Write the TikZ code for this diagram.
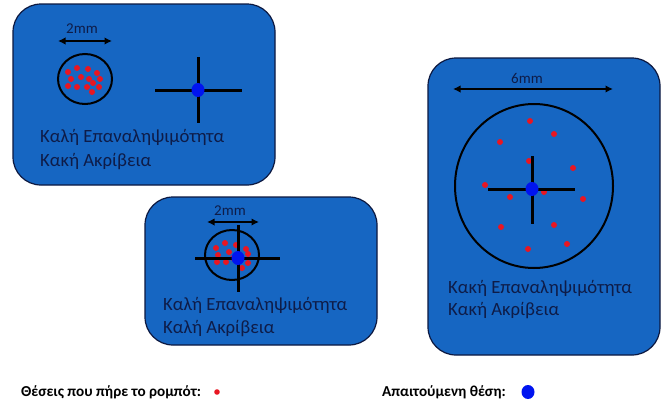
\documentclass[tikz,border=0pt]{standalone}
\usepackage{fontspec}
\setmainfont{Carlito}
\usepackage{tikz}
\usetikzlibrary{arrows.meta}

\definecolor{boxblue}{RGB}{22,102,194}
\definecolor{boxedge}{RGB}{12,24,64}
\definecolor{textnavy}{RGB}{14,28,72}
\definecolor{hitred}{RGB}{232,22,34}
\definecolor{goalblue}{RGB}{0,20,240}

\tikzset{
    panel/.style={draw=boxedge, fill=boxblue, line width=1.2pt, rounded corners=28pt},
    hit/.style={fill=hitred},
    goal/.style={fill=goalblue},
    cross/.style={line width=3pt, black},
    spread/.style={line width=2pt, black},
    span/.style={line width=1.5pt, black, {Latex[length=7.5pt,width=7.5pt]}-{Latex[length=7.5pt,width=7.5pt]}},
    caption/.style={anchor=base west, inner sep=0pt, text=textnavy, font=\fontsize{18.7}{22}\selectfont},
    size/.style={anchor=base, inner sep=0pt, text=textnavy, font=\fontsize{15}{18}\selectfont},
    legend/.style={anchor=base west, inner sep=0pt, text=black, font=\fontsize{15.2}{18}\selectfont\bfseries}
}

\begin{document}
\begin{tikzpicture}[x=1pt, y=-1pt]
        \useasboundingbox (0,0) rectangle (669,410);
        \fill [white] (0,0) rectangle (669,410);

        % panel 1: good repeatability, bad accuracy
        \draw [panel] (13,4) rectangle (275,185);
        \coordinate (s1a) at (58,41);
        \coordinate (s1b) at (112,41);
        \draw [span] (s1a) -- (s1b);
        \node [size] (mm1) at (82,33) {2mm};
        \draw [spread] (85,79) ellipse [x radius=27pt, y radius=25pt];
        \foreach \px/\py in {68/72, 77/68, 88/69, 97/73, 71/79, 81/77, 89/79, 100/79,
                             68/86, 77/87, 87/87, 93/83, 99/87, 92/92}
            \fill [hit] (\px,\py) circle [radius=3pt];
        \draw [cross] (155,90) -- (242,90);
        \draw [cross] (198,57) -- (198,123);
        \fill [goal] (198,90) ellipse [x radius=6.5pt, y radius=7pt];
        \node [caption] (rep1) at (40,142) {Καλή Επαναληψιμότητα};
        \node [caption] (acc1) at (40,166) {Κακή Ακρίβεια};

        % panel 2: good repeatability, good accuracy
        \draw [panel] (145,197) rectangle (377,345);
        \coordinate (s2a) at (207,222);
        \coordinate (s2b) at (259,222);
        \draw [span] (s2a) -- (s2b);
        \node [size] (mm2) at (230,215) {2mm};
        \draw [spread] (232,255) ellipse [x radius=27pt, y radius=25pt];
        \foreach \px/\py in {216/248, 225/243, 236/245, 246/249, 218/255, 229/252,
                             248/254, 217/262, 226/262, 248/263, 242/268, 233/258}
            \fill [hit] (\px,\py) circle [radius=3pt];
        \draw [cross] (195,258) -- (280,258);
        \draw [cross] (238,225) -- (238,292);
        \fill [goal] (238,258) ellipse [x radius=6.5pt, y radius=7pt];
        \node [caption] (rep2) at (163,310) {Καλή Επαναληψιμότητα};
        \node [caption] (acc2) at (163,333) {Καλή Ακρίβεια};

        % panel 3: bad repeatability, bad accuracy
        \draw [panel] (428,58) rectangle (660,355);
        \coordinate (s3a) at (453,89);
        \coordinate (s3b) at (613,89);
        \draw [span] (s3a) -- (s3b);
        \node [size] (mm3) at (527,83) {6mm};
        \draw [spread] (534,186) ellipse [x radius=79pt, y radius=82pt];
        \foreach \px/\py in {530/121, 554/134, 500/142, 529/161, 573/168, 485/185, 510/197,
                             544/192, 583/199, 501/227, 554/225, 528/249, 567/244}
            \fill [hit] (\px,\py) circle [radius=3pt];
        \draw [cross] (488,189) -- (575,189);
        \draw [cross] (532,156) -- (532,224);
        \fill [goal] (532,189) ellipse [x radius=6.5pt, y radius=7pt];
        \node [caption] (rep3) at (448,293) {Κακή Επαναληψιμότητα};
        \node [caption] (acc3) at (448,315) {Κακή Ακρίβεια};

        % legend
        \node [legend] (lhit) at (21,396) {Θέσεις που πήρε το ρομπότ:};
        \fill [hit] (217,392) circle [radius=2.8pt];
        \node [legend] (lgoal) at (382,396) {Απαιτούμενη θέση:};
        \fill [goal] (528,392) ellipse [x radius=6.5pt, y radius=7pt];
    \end{tikzpicture}
\end{document}
